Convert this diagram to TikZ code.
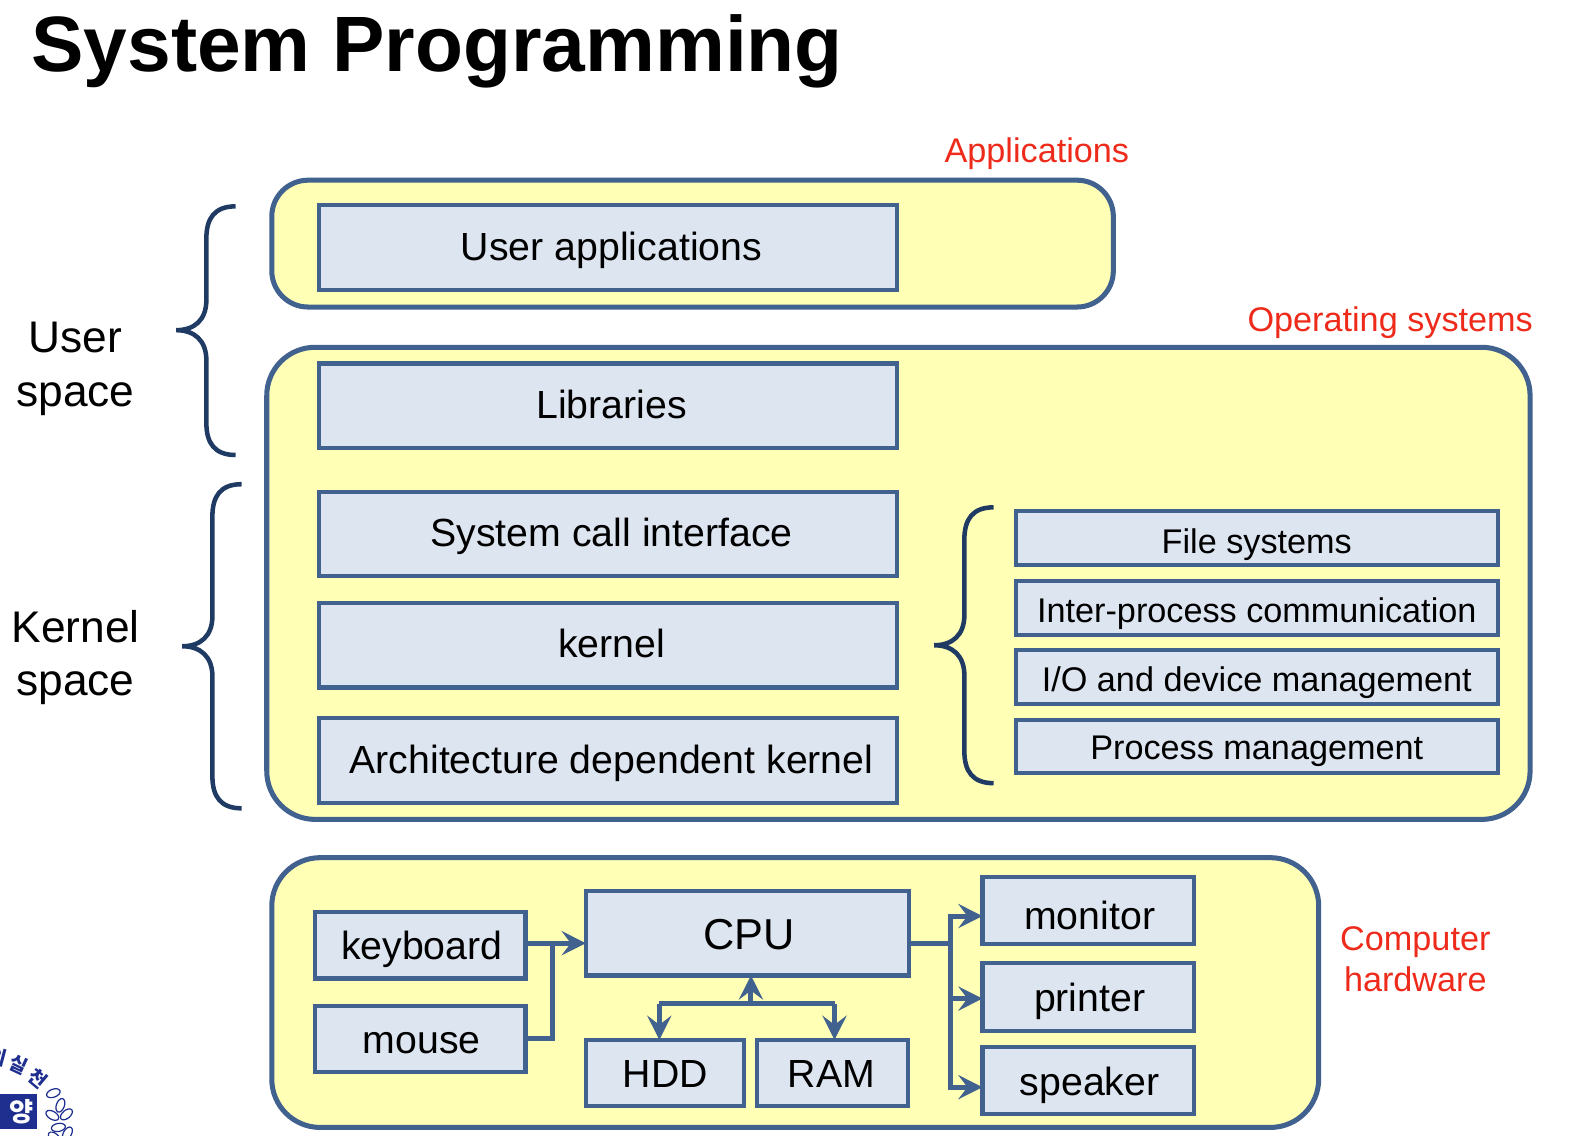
\documentclass[tikz,border=0pt]{standalone}
\usepackage{fontspec}
\setmainfont{Liberation Sans}
\newfontfamily\krfont{Noto Sans CJK KR}
\usetikzlibrary{arrows.meta,positioning}

\definecolor{edgeblue}{HTML}{41618F}
\definecolor{bracenavy}{HTML}{1F3A63}
\definecolor{panelyellow}{HTML}{FFFFB6}
\definecolor{boxblue}{HTML}{DDE5F0}
\definecolor{labelred}{HTML}{EE2B1B}
\definecolor{logoblue}{HTML}{1F2F8F}

\tikzset{
    panel/.style = {draw=edgeblue,fill=panelyellow,line width=5pt},
    block/.style = {draw=edgeblue,fill=boxblue,line width=4.2pt,inner sep=0pt,outer sep=0pt,text depth=0pt,font=\fontsize{39}{44}\selectfont},
    nudged/.style = {execute at begin node=\hspace*{#1}},
    wideblock/.style = {block,minimum width=574pt,minimum height=84pt,text height=25pt,nudged=7pt},
    subblock/.style = {block,minimum width=479pt,minimum height=53pt,text height=29pt,font=\fontsize{34}{40}\selectfont},
    hwblock/.style = {block,minimum width=209pt,minimum height=66pt,text height=29pt,nudged=3pt},
    wire/.style = {draw=edgeblue,line width=5pt},
    curly/.style = {draw=bracenavy,line width=4.5pt},
    redlabel/.style = {text=labelred,inner sep=0pt,align=center,font=\fontsize{34}{41}\selectfont},
    sidelabel/.style = {inner sep=0pt,align=center,font=\fontsize{44}{53}\selectfont},
    logotext/.style = {text=logoblue,inner sep=0pt,font=\krfont\bfseries\fontsize{19}{19}\selectfont}
}
\newcommand{\curlybrace}[4]{% spine x, top y, tip y, bottom y
    \draw[curly] (#1+29,#2) .. controls (#1+8,#2) and (#1,#2+12) .. (#1,#2+32)
        -- (#1,#3-30) .. controls (#1,#3-10) and (#1-12,#3) .. (#1-30,#3)
        .. controls (#1-12,#3) and (#1,#3+10) .. (#1,#3+30)
        -- (#1,#4-32) .. controls (#1,#4-12) and (#1+8,#4) .. (#1+29,#4);
}

\begin{document}
\begin{tikzpicture}
    [x=1pt,y=-1pt,>={Stealth[length=24pt,width=24pt,inset=9pt]},node distance = 100pt,on grid]
\useasboundingbox (0,0) rectangle (1567.6,1128.5);

\node[inner sep=0pt,anchor=base west,font=\fontsize{78}{80}\bfseries\selectfont](title) at (31,71){System Programming};

% yellow panels
\draw[panel,rounded corners=36pt] (270,179) rectangle (1106,305);
\draw[panel,rounded corners=48pt] (265,345) rectangle (1520,814);
\draw[panel,rounded corners=48pt] (270,852) rectangle (1310,1120);

\node[redlabel](applabel) at (1030,153){Applications};
\node[redlabel](oslabel) at (1381,321){Operating systems};
\node[redlabel](hwlabel) at (1406,953){Computer\\hardware};
\node[sidelabel](userspace) at (75,366.5){User\\space};
\node[sidelabel](kernelspace) at (75,653){Kernel\\space};

% left column
\node[wideblock](userapps) at (604,246){User applications};
\node[wideblock](libs)[below = 157pt of userapps]{Libraries};
\node[wideblock](syscall)[below = 127.5pt of libs]{System call interface};
\node[wideblock](kernel)[below = 110.5pt of syscall]{kernel};
\node[wideblock](archkernel)[below = 114.5pt of kernel]{Architecture dependent kernel};

% kernel parts
\node[subblock,text height=30pt](files) at (1248.5,534.5){File systems};
\node[subblock](ipc)[below = 69.5pt of files]{Inter-process communication};
\node[subblock](iodev)[below = 68.5pt of ipc]{I/O and device management};
\node[subblock,text height=25pt](procman)[below = 69pt of iodev]{Process management};

\curlybrace{205}{205}{328}{452}
\curlybrace{211}{481}{642}{803}
\curlybrace{958}{504}{641}{778}

% hardware
\node[hwblock](keyboard) at (417.5,939){keyboard};
\node[hwblock](mouse)[below = 93pt of keyboard]{mouse};
\node[block,minimum width=321pt,minimum height=84pt,text height=32pt,nudged=3pt,font=\fontsize{43}{48}\selectfont](cpu) at (742.5,927){CPU};
\node[hwblock,minimum width=157pt,nudged=-2pt](hdd) at (660.5,1066){HDD};
\node[hwblock,minimum width=150pt,nudged=-5pt](ram)[right = 166.5pt of hdd]{RAM};
\node[hwblock,minimum width=210pt,minimum height=67pt,text height=37pt](monitor) at (1081,904.5){monitor};
\node[hwblock,minimum width=210pt,minimum height=67pt](printer)[below = 86pt of monitor]{printer};
\node[hwblock,minimum width=210pt,minimum height=67pt](speaker)[below = 83pt of printer]{speaker};

\coordinate (inmerge) at (549,937);
\coordinate (outbus) at (944,937);
\coordinate (hddturn) at (655,997);
\coordinate (ramturn) at (829,997);
\coordinate (cpujoin) at (746,997);

\path[->,every edge/.style=wire]
    (keyboard.east |- inmerge) edge (cpu.west |- inmerge)
    (cpujoin) edge (cpu.south -| cpujoin)
    (hddturn) edge (hdd.north -| hddturn)
    (ramturn) edge (ram.north -| ramturn);
\draw[wire] (mouse.east) -| (inmerge);
\draw[wire] (cpu.east |- outbus) -- (outbus);
\draw[wire] (hddturn) -- (ramturn);
\draw[wire,->] (outbus) |- ([yshift=-5.5pt]monitor.west);
\draw[wire,->] (outbus) |- ([yshift=-1.5pt]printer.west);
\draw[wire,->] (outbus) |- ([yshift=-6.5pt]speaker.west);

% logo in the corner
\node[logotext,rotate=-15](logoa) at (-2,1050){의};
\node[logotext,rotate=-25](logob) at (18,1058){실};
\node[logotext,rotate=-40](logoc) at (38,1071){천};
\node[fill=logoblue,text=white,inner sep=0pt,minimum width=38pt,minimum height=34pt,anchor=north east,font=\krfont\bfseries\fontsize{26}{26}\selectfont](logobox) at (37,1087){\hspace*{8pt}양};
\foreach \fx/\fy/\fa in {53/1086/20,60/1098/70,52/1108/-30,66/1107/40,58/1120/10,67/1126/60,54/1130/-40}
    \draw[logoblue,line width=1.2pt,fill=white,rotate around={\fa:(\fx,\fy)}] (\fx,\fy) ellipse[x radius=7pt,y radius=4pt];
\end{tikzpicture}
\end{document}
